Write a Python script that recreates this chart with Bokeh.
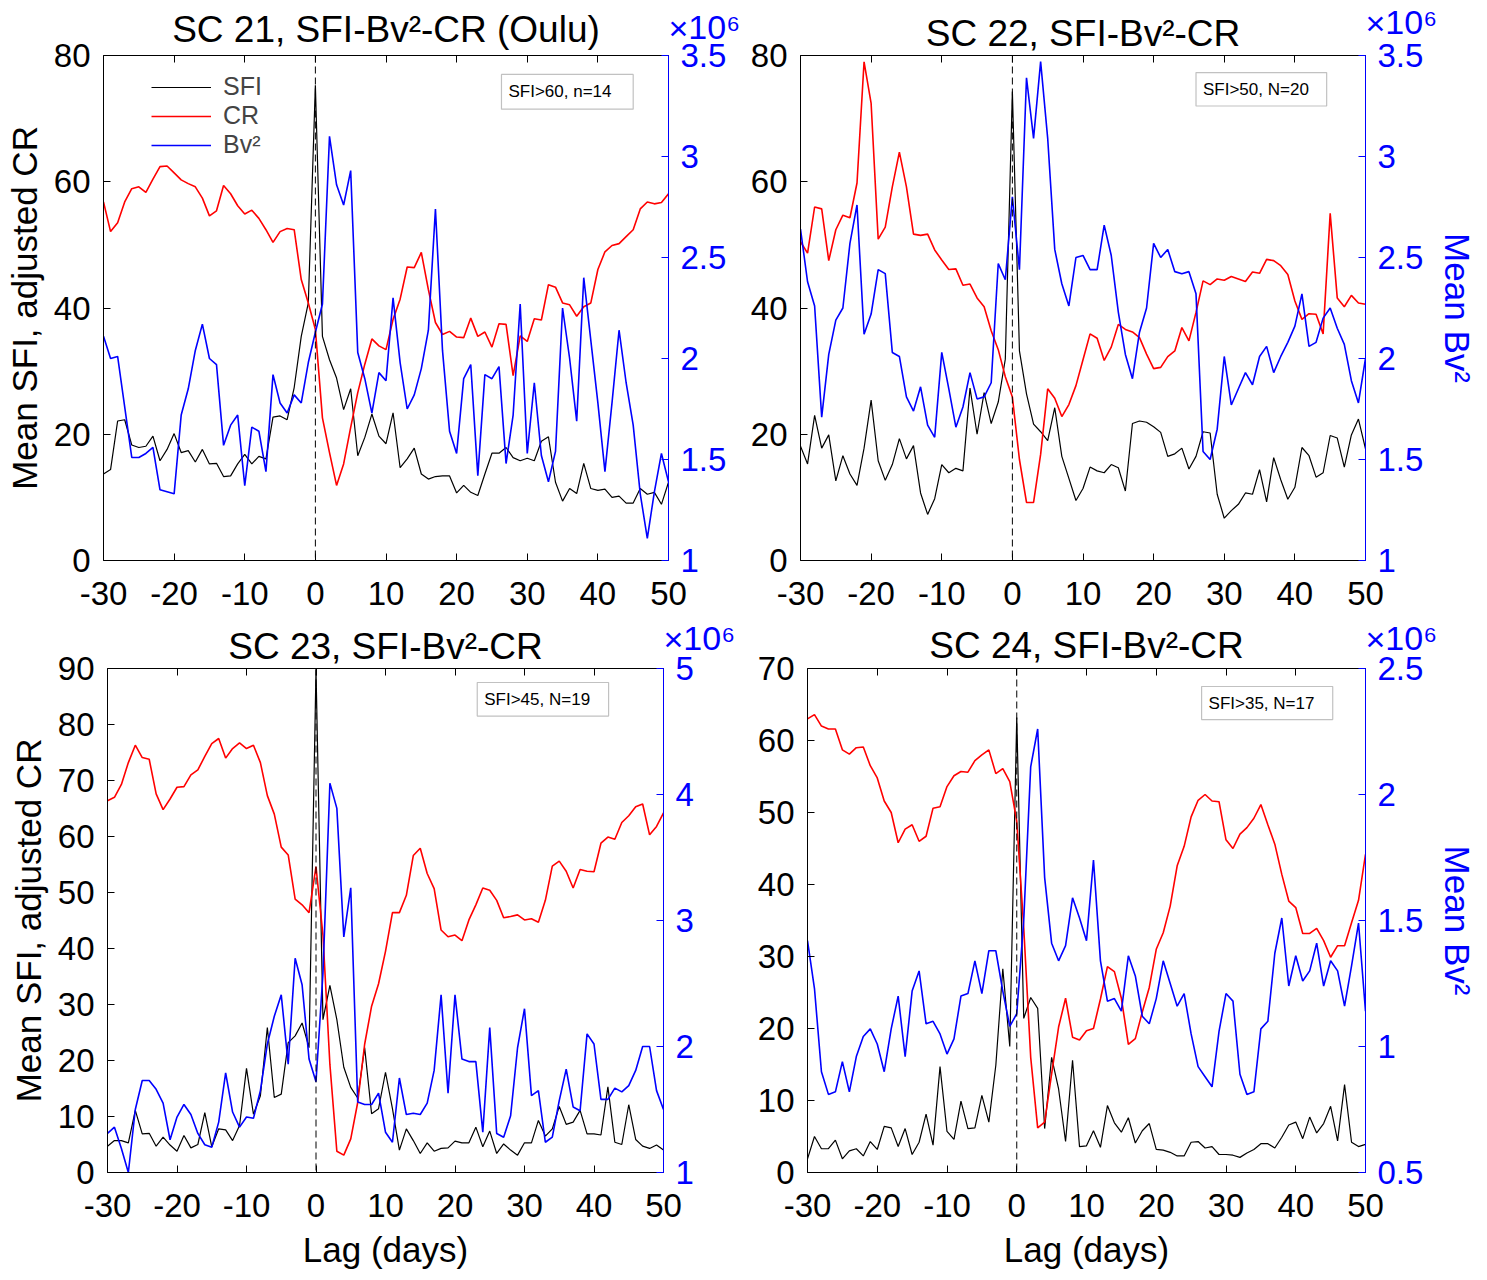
from bokeh.plotting import figure
from bokeh.models import (Range1d, LinearAxis, FixedTicker, Span, BoxAnnotation,
                          Label, Legend, LegendItem)
from bokeh.layouts import column, row
from bokeh.embed import file_html
from bokeh.resources import INLINE

FONT = "Liberation Sans"

# ---------------- data ----------------
lag = list(range(-30, 51))
lag_ticks = [-30, -20, -10, 0, 10, 20, 30, 40, 50]

# SC 21 (Oulu)
sc21_sfi = [13.7, 14.4, 22.1, 22.3, 18.3, 17.9, 18.1, 19.7, 15.8, 17.6,
            20.1, 17.1, 17.4, 15.6, 17.6, 15.3, 15.4, 13.3, 13.4, 15.3,
            16.8, 15.3, 16.5, 16.1, 22.7, 22.9, 22.3, 27.4, 35.5, 40.8,
            75.3, 35.5, 31.8, 28.9, 23.9, 27.2, 16.6, 19.5, 23.2, 19.7,
            18.5, 23.4, 14.7, 16.1, 17.8, 13.7, 12.9, 13.3, 13.4, 13.4,
            10.7, 11.9, 10.8, 10.3, 13.7, 17.0, 17.0, 17.9, 16.3, 15.8,
            16.2, 15.8, 18.9, 19.6, 12.4, 9.4, 11.4, 10.6, 15.4, 11.4,
            11.1, 11.3, 10.0, 10.2, 9.1, 9.1, 11.4, 10.5, 10.8, 8.9, 12.4]
sc21_cr = [56.8, 52.1, 53.5, 56.8, 58.9, 59.2, 58.3, 60.4, 62.4, 62.5,
           61.4, 60.3, 59.7, 59.2, 57.4, 54.6, 55.4, 59.4, 58.1, 56.2,
           54.9, 55.5, 54.2, 52.4, 50.4, 52.1, 52.6, 52.4, 44.5, 40.8,
           36.6, 22.6, 17.1, 11.9, 15.3, 21.1, 26.6, 31.1, 35.1, 34.0,
           33.4, 38.2, 41.4, 46.5, 46.4, 48.8, 42.9, 37.7, 35.8, 36.3,
           35.4, 35.3, 38.4, 35.5, 36.2, 33.8, 37.5, 37.4, 29.3, 35.6,
           34.7, 38.3, 38.1, 43.7, 43.3, 40.8, 40.5, 38.7, 40.2, 40.8,
           46.1, 48.9, 49.9, 50.2, 51.3, 52.4, 55.7, 56.8, 56.5, 56.7, 58.1]
sc21_bv = [2.11, 2.00, 2.01, 1.76, 1.51, 1.51, 1.53, 1.56, 1.35, 1.34,
           1.33, 1.72, 1.85, 2.04, 2.17, 2.00, 1.97, 1.57, 1.67, 1.72,
           1.37, 1.66, 1.64, 1.44, 1.92, 1.78, 1.73, 1.82, 1.78, 1.98,
           2.13, 2.27, 3.10, 2.86, 2.76, 2.93, 2.03, 1.90, 1.73, 1.93,
           1.89, 2.30, 1.98, 1.75, 1.82, 1.95, 2.14, 2.74, 2.04, 1.64,
           1.53, 1.90, 1.97, 1.42, 1.92, 1.90, 1.96, 1.48, 1.72, 2.27,
           1.53, 1.88, 1.52, 1.39, 1.54, 2.25, 2.00, 1.69, 2.40, 2.09,
           1.78, 1.44, 1.78, 2.14, 1.88, 1.67, 1.33, 1.11, 1.34, 1.53, 1.39]

# SC 22
sc22_sfi = [18.1, 15.3, 23.0, 17.8, 19.9, 12.6, 16.6, 13.7, 11.9, 17.8,
            25.4, 15.8, 12.7, 15.2, 19.3, 16.1, 18.2, 10.7, 7.3, 9.8,
            15.2, 13.9, 14.6, 14.2, 27.3, 20.0, 26.6, 21.7, 25.1, 31.9,
            74.3, 33.2, 26.4, 21.6, 20.4, 19.0, 24.2, 16.5, 13.0, 9.5,
            11.4, 14.8, 14.2, 13.9, 15.2, 14.7, 11.0, 21.7, 22.1, 21.9,
            21.2, 20.3, 16.5, 16.9, 17.8, 14.5, 16.5, 20.4, 20.2, 10.5,
            6.7, 7.9, 8.9, 10.7, 10.5, 14.4, 9.3, 16.3, 12.8, 9.7,
            11.6, 17.9, 16.6, 13.2, 13.9, 19.8, 19.4, 14.8, 19.9, 22.4, 17.7]
sc22_cr = [50.5, 48.7, 56.0, 55.7, 47.5, 52.4, 54.7, 54.3, 59.8, 79.0,
           72.4, 50.9, 52.8, 59.2, 64.7, 59.2, 51.7, 51.5, 51.7, 49.2,
           47.6, 46.1, 46.2, 43.6, 43.8, 41.6, 40.2, 36.4, 33.4, 29.1,
           25.9, 16.0, 9.2, 9.2, 16.8, 27.2, 25.7, 22.8, 24.7, 27.7,
           31.8, 35.9, 35.2, 31.7, 33.8, 37.4, 36.6, 36.2, 35.3, 32.7,
           30.4, 30.6, 32.3, 33.2, 36.9, 34.8, 39.3, 44.3, 43.7, 44.6,
           44.4, 45.0, 44.6, 44.2, 45.7, 45.5, 47.7, 47.5, 46.7, 45.3,
           41.1, 38.2, 39.1, 39.0, 35.9, 55.0, 41.6, 40.2, 42.0, 40.8, 40.6]
sc22_bv = [2.64, 2.38, 2.26, 1.71, 2.02, 2.19, 2.25, 2.57, 2.76, 2.12,
           2.22, 2.44, 2.42, 2.03, 2.01, 1.81, 1.74, 1.86, 1.67, 1.61,
           2.03, 1.85, 1.66, 1.76, 1.93, 1.80, 1.81, 1.88, 2.47, 2.39,
           2.80, 2.44, 3.39, 3.09, 3.47, 3.09, 2.54, 2.37, 2.26, 2.50,
           2.51, 2.44, 2.44, 2.66, 2.51, 2.23, 2.02, 1.90, 2.13, 2.25,
           2.57, 2.50, 2.54, 2.43, 2.42, 2.43, 2.32, 1.54, 1.50, 1.65,
           2.01, 1.77, 1.85, 1.93, 1.87, 2.01, 2.06, 1.93, 2.01, 2.08,
           2.16, 2.32, 2.06, 2.08, 2.20, 2.25, 2.15, 2.07, 1.89, 1.78, 2.00]

# SC 23
sc23_sfi = [4.7, 5.7, 5.7, 5.3, 11.1, 6.9, 7.0, 4.7, 6.3, 4.9,
            3.8, 6.6, 4.4, 5.0, 10.7, 4.6, 7.8, 7.6, 5.7, 8.4,
            18.6, 10.4, 13.7, 25.9, 13.4, 14.0, 23.2, 24.4, 26.7, 22.3,
            89.8, 27.3, 33.4, 27.3, 18.8, 15.2, 13.3, 22.3, 10.5, 11.4,
            17.9, 11.4, 4.0, 7.8, 5.7, 3.4, 5.3, 3.8, 4.3, 4.4,
            5.6, 5.3, 5.3, 8.1, 4.6, 7.4, 3.4, 5.1, 4.0, 3.1,
            5.3, 5.3, 9.3, 6.5, 7.8, 11.8, 8.6, 9.0, 11.1, 6.9,
            6.9, 6.7, 15.3, 5.4, 5.0, 12.1, 5.9, 4.7, 4.3, 4.9, 4.0]
sc23_cr = [66.4, 67.0, 69.3, 73.2, 76.3, 74.1, 73.8, 67.6, 64.8, 66.7,
           68.8, 68.9, 71.0, 71.9, 74.3, 76.6, 77.5, 74.0, 75.7, 76.7,
           75.7, 76.3, 73.2, 67.3, 64.0, 58.1, 56.7, 48.8, 47.8, 46.4,
           54.6, 42.4, 19.3, 3.8, 3.1, 6.0, 12.5, 22.9, 29.7, 33.7,
           39.5, 46.4, 46.4, 49.5, 56.6, 57.9, 53.4, 50.7, 43.3, 42.1,
           42.4, 41.4, 45.1, 47.8, 50.8, 50.4, 48.6, 45.5, 45.7, 46.0,
           45.1, 45.3, 44.7, 48.6, 54.7, 55.6, 53.8, 50.8, 54.1, 53.8,
           53.7, 58.8, 59.9, 59.5, 62.5, 63.7, 65.3, 65.8, 60.3, 61.8, 64.2]
sc23_bv = [1.31, 1.36, 1.19, 1.00, 1.50, 1.73, 1.73, 1.66, 1.55, 1.26,
           1.44, 1.54, 1.46, 1.31, 1.22, 1.20, 1.40, 1.79, 1.48, 1.36,
           1.44, 1.43, 1.65, 2.02, 2.24, 2.41, 1.86, 2.70, 2.49, 1.90,
           1.72, 2.58, 4.09, 3.89, 2.87, 3.26, 1.56, 1.54, 1.54, 1.63,
           1.32, 1.24, 1.75, 1.46, 1.47, 1.46, 1.55, 1.81, 2.41, 1.63,
           2.41, 1.90, 1.88, 1.88, 1.32, 2.15, 1.31, 1.28, 1.45, 1.99,
           2.30, 1.61, 1.65, 1.24, 1.28, 1.57, 1.82, 1.52, 1.49, 2.10,
           2.02, 1.58, 1.58, 1.67, 1.64, 1.69, 1.81, 2.00, 2.00, 1.65, 1.50]

# SC 24
sc24_sfi = [1.9, 5.0, 3.3, 3.3, 4.5, 1.9, 3.0, 3.3, 2.3, 4.3,
            3.2, 6.4, 6.2, 3.6, 6.1, 2.5, 4.2, 8.1, 3.8, 14.7,
            5.7, 4.6, 9.9, 6.1, 6.2, 10.7, 7.0, 14.9, 28.3, 17.5,
            63.2, 21.4, 24.3, 22.8, 6.1, 16.0, 11.6, 4.3, 15.6, 3.6,
            3.7, 5.8, 3.5, 9.3, 6.9, 5.6, 7.6, 4.1, 5.8, 6.8,
            3.2, 3.1, 2.8, 2.3, 2.3, 4.2, 4.3, 3.4, 3.6, 2.5,
            2.5, 2.4, 2.1, 2.7, 3.2, 4.0, 4.0, 3.4, 4.9, 6.6,
            7.0, 4.7, 7.7, 5.5, 6.8, 9.2, 4.4, 12.2, 4.2, 3.6, 3.9]
sc24_cr = [63.0, 63.6, 62.0, 61.6, 61.6, 58.7, 58.1, 59.0, 59.1, 56.5,
           54.8, 51.6, 50.0, 45.8, 47.7, 48.3, 46.0, 46.7, 50.6, 50.8,
           53.6, 55.1, 55.7, 55.6, 57.2, 58.0, 58.7, 55.4, 56.1, 54.3,
           48.8, 34.0, 16.0, 6.2, 7.0, 13.7, 20.2, 24.2, 18.8, 18.4,
           19.7, 20.0, 24.1, 28.6, 27.9, 24.2, 17.8, 18.6, 22.3, 25.7,
           31.0, 33.3, 37.0, 42.6, 45.3, 49.4, 51.7, 52.5, 51.6, 51.5,
           46.2, 45.0, 47.0, 47.9, 49.2, 51.1, 48.3, 45.6, 41.4, 37.7,
           36.8, 33.2, 33.2, 33.9, 32.2, 29.9, 31.5, 31.5, 34.7, 37.8, 44.2]
sc24_bv = [1.42, 1.23, 0.90, 0.81, 0.82, 0.94, 0.82, 0.96, 1.04, 1.07,
           1.01, 0.90, 1.07, 1.20, 0.96, 1.22, 1.30, 1.09, 1.10, 1.05,
           0.97, 1.03, 1.20, 1.21, 1.34, 1.21, 1.38, 1.38, 1.22, 1.08,
           1.13, 1.50, 2.11, 2.26, 1.67, 1.41, 1.34, 1.40, 1.59, 1.51,
           1.42, 1.74, 1.34, 1.18, 1.19, 1.14, 1.36, 1.28, 1.12, 1.09,
           1.19, 1.34, 1.25, 1.16, 1.21, 1.05, 0.92, 0.88, 0.84, 1.06,
           1.21, 1.18, 0.89, 0.81, 0.82, 1.07, 1.10, 1.37, 1.51, 1.24,
           1.36, 1.26, 1.30, 1.41, 1.24, 1.34, 1.30, 1.16, 1.32, 1.49, 1.14]

titles = ["SC 21, SFI-Bv\u00b2-CR (Oulu)", "SC 22, SFI-Bv\u00b2-CR",
          "SC 23, SFI-Bv\u00b2-CR", "SC 24, SFI-Bv\u00b2-CR"]
notes = ["SFI>60, n=14", "SFI>50, N=20", "SFI>45, N=19", "SFI>35, N=17"]
left_ticks = [[0, 20, 40, 60, 80], [0, 20, 40, 60, 80],
              [0, 10, 20, 30, 40, 50, 60, 70, 80, 90],
              [0, 10, 20, 30, 40, 50, 60, 70]]
right_ticks = [[1, 1.5, 2, 2.5, 3, 3.5], [1, 1.5, 2, 2.5, 3, 3.5],
               [1, 2, 3, 4, 5], [0.5, 1, 1.5, 2, 2.5]]
legend_labels = ["SFI", "CR", "Bv\u00b2"]
multiplier = "\u00d710\u2076"

# ---------------- styling / layout ----------------
BLUE = "#0000ff"
RED = "#ff0000"


def style_axis(ax, color="black"):
    ax.axis_line_color = color
    ax.axis_line_width = 1
    ax.major_tick_line_color = color
    ax.minor_tick_line_color = color
    ax.major_label_text_color = color
    ax.major_tick_in = 7
    ax.major_tick_out = 0
    ax.minor_tick_in = 0
    ax.minor_tick_out = 0
    ax.major_label_text_font = FONT
    ax.major_label_text_font_size = "33px"
    ax.major_label_standoff = 13
    ax.axis_label_text_font = FONT
    ax.axis_label_text_font_size = "35px"
    ax.axis_label_text_font_style = "normal"
    ax.axis_label_text_color = color


def labels_for(ticks):
    return {(t if t % 1 else int(t)): f"{t:g}" for t in ticks}


def make_panel(i, sfi, cr, bv, w, h, bl, br, bt, bb, ylabel, xlabel, rlabel,
               mult_std, title_std, note_box, legend=False):
    ymax = left_ticks[i][-1]
    rt = right_ticks[i]
    p = figure(width=w, height=h, x_range=Range1d(-30, 50),
               y_range=Range1d(0, ymax), output_backend="svg",
               toolbar_location=None, min_border_left=bl, min_border_right=br,
               min_border_top=bt, min_border_bottom=bb)
    p.outline_line_color = None
    p.xgrid.visible = False
    p.ygrid.visible = False
    p.background_fill_color = "white"
    p.border_fill_color = "white"
    p.extra_y_ranges = {"bv": Range1d(rt[0], rt[-1])}

    xa = p.xaxis[0]
    xa.ticker = FixedTicker(ticks=lag_ticks)
    style_axis(xa)
    xa.major_label_overrides = labels_for(lag_ticks)
    xa.major_label_standoff = 21
    if xlabel:
        xa.axis_label = "Lag (days)"
        xa.axis_label_standoff = 10

    ya = p.yaxis[0]
    ya.ticker = FixedTicker(ticks=left_ticks[i])
    style_axis(ya)
    ya.major_label_overrides = labels_for(left_ticks[i])
    if ylabel:
        ya.axis_label = "Mean SFI, adjusted CR"
        ya.axis_label_standoff = 7

    # top axis: inward tick marks, the x10^6 multiplier of the right axis, and the title
    top = LinearAxis(ticker=FixedTicker(ticks=[50], minor_ticks=lag_ticks))
    style_axis(top)
    top.minor_tick_in = 7
    top.major_label_overrides = {50: multiplier}
    top.major_label_text_color = BLUE
    top.major_label_text_font_size = "34px"
    top.major_label_orientation = 0.0001
    top.major_label_standoff = mult_std
    top.axis_label = titles[i]
    top.axis_label_text_font_size = "37px"
    top.axis_label_standoff = title_std
    p.add_layout(top, "above")

    ra = LinearAxis(y_range_name="bv", ticker=FixedTicker(ticks=rt),
                    major_label_overrides=labels_for(rt))
    style_axis(ra, BLUE)
    ra.major_label_standoff = 12
    if rlabel:
        ra.axis_label = "Mean Bv\u00b2"
        ra.axis_label_standoff = 12
    p.add_layout(ra, "right")

    p.add_layout(Span(location=0, dimension="height", line_color="black",
                      line_dash="7 4", line_width=1))

    r_sfi = p.line(lag, sfi, line_color="black", line_width=1.2)
    r_cr = p.line(lag, cr, line_color=RED, line_width=1.6)
    r_bv = p.line(lag, bv, line_color=BLUE, line_width=1.6, y_range_name="bv")

    if legend:
        lg = Legend(items=[LegendItem(label=legend_labels[0], renderers=[r_sfi]),
                           LegendItem(label=legend_labels[1], renderers=[r_cr]),
                           LegendItem(label=legend_labels[2], renderers=[r_bv])],
                    location=(48, 401), border_line_color=None,
                    background_fill_alpha=0, label_text_font=FONT,
                    label_text_font_size="25px", glyph_width=60, glyph_height=24,
                    label_height=24, label_standoff=12, spacing=0, padding=5,
                    margin=0)
        p.add_layout(lg)

    # annotation box
    l, r, b, t = note_box
    p.add_layout(BoxAnnotation(left=l, right=r, bottom=b, top=t, fill_color="white",
                               fill_alpha=1, line_color="#333333", line_width=1.2))
    p.add_layout(Label(x=l, y=(b + t) / 2, x_offset=7, text=notes[i],
                       text_align="left", text_baseline="middle", text_font=FONT,
                       text_font_size="17px", text_color="black"))
    return p


p1 = make_panel(0, sc21_sfi, sc21_cr, sc21_bv, 745, 617, 103, 77, 55, 55,
                True, False, False, 28, -64, (26.35, 45.0, 71.5, 77.0), legend=True)
p2 = make_panel(1, sc22_sfi, sc22_cr, sc22_bv, 735, 617, 55, 113, 51, 57,
                False, False, True, 33, -73, (26.0, 44.5, 72.0, 77.3))
p3 = make_panel(2, sc23_sfi, sc23_cr, sc23_bv, 745, 661, 107, 82, 48, 106,
                True, True, False, 30, -70, (23.2, 42.1, 81.5, 87.5))
p4 = make_panel(3, sc24_sfi, sc24_cr, sc24_bv, 735, 661, 62, 112, 51, 105,
                False, True, True, 30, -69, (26.5, 45.3, 62.9, 67.5))

layout = column(row(p1, p2), row(p3, p4))
open("out.html", "w").write(file_html(layout, INLINE))
